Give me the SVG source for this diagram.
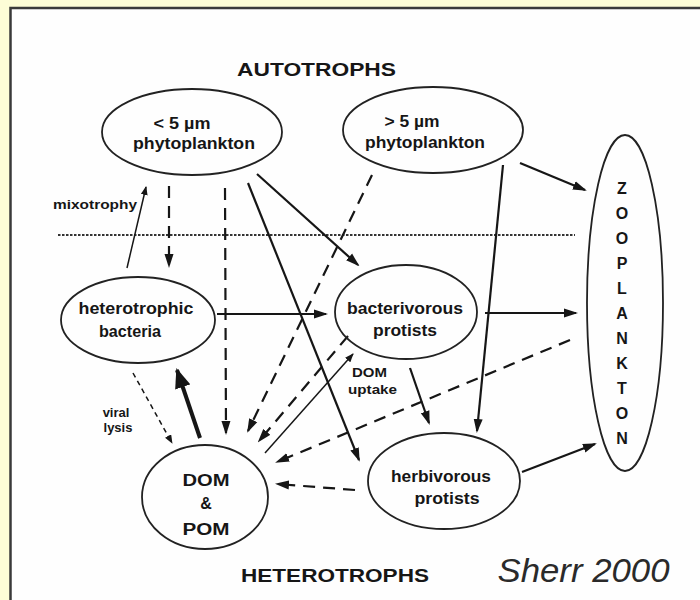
<svg xmlns="http://www.w3.org/2000/svg" width="700" height="600" viewBox="0 0 700 600">
<defs>
<style>
.t{font-family:"Liberation Sans",Arial,Helvetica,sans-serif;font-weight:bold;fill:#161616;text-anchor:middle;font-size:16px}
.sm{font-size:13px}
.big{font-size:19px}
.nd{fill:none;stroke:#222;stroke-width:1.8}
.c{fill:none;stroke:#161616;stroke-width:2.2}
.d{stroke-dasharray:12 8}
.thin{stroke-width:1.5}
.td{stroke-dasharray:5 4}
.thick{stroke-width:4}
</style>
<marker id="a" markerWidth="14" markerHeight="10" refX="12" refY="5" orient="auto" markerUnits="userSpaceOnUse"><path d="M0,0.5 L14,5 L0,9.5z" fill="#161616"/></marker>
<marker id="s" markerWidth="9" markerHeight="7" refX="8" refY="3.5" orient="auto" markerUnits="userSpaceOnUse"><path d="M0,0 L9,3.5 L0,7z" fill="#161616"/></marker>
<marker id="b" markerWidth="20" markerHeight="16" refX="18" refY="8" orient="auto" markerUnits="userSpaceOnUse"><path d="M0,0 L20,8 L0,16z" fill="#161616"/></marker>
</defs>
<rect x="0" y="0" width="700" height="600" fill="#fdfdd6"/>
<rect x="10.5" y="8" width="700" height="600" fill="#fefefe" stroke="#3a3a3a" stroke-width="2.5"/>

<text class="t big" x="316.5" y="76" textLength="159" lengthAdjust="spacingAndGlyphs">AUTOTROPHS</text>
<text class="t big" x="335" y="582" textLength="188" lengthAdjust="spacingAndGlyphs">HETEROTROPHS</text>
<text x="583.5" y="582" font-family="'Liberation Sans',Arial,sans-serif" font-style="italic" font-size="34" fill="#2a2a2a" text-anchor="middle" textLength="172" lengthAdjust="spacingAndGlyphs">Sherr 2000</text>

<path d="M58,235 H575" fill="none" stroke="#333" stroke-width="2" stroke-dasharray="2.5 1.5"/>

<g id="connectors">
<path class="c thin" d="M127,268 L146,187" marker-end="url(#s)"/>
<path class="c d" d="M169,186 L169,266" marker-end="url(#a)"/>
<path class="c d" d="M225,188 L226,433" marker-end="url(#a)"/>
<path class="c" d="M248,183 L359,460" marker-end="url(#a)"/>
<path class="c" d="M257,174 L358,265" marker-end="url(#a)"/>
<path class="c d" d="M372,175 L248,431" marker-end="url(#a)"/>
<path class="c" d="M520,163 L585,190" marker-end="url(#a)"/>
<path class="c" d="M503,165 L477,431" marker-end="url(#a)"/>
<path class="c" d="M217,314 L326,314" marker-end="url(#a)"/>
<path class="c" d="M485,313 L576,313" marker-end="url(#a)"/>
<path class="c d" d="M570,340 L277,462" marker-end="url(#a)"/>
<path class="c d" d="M348,336 L259,441" marker-end="url(#a)"/>
<path class="c thin" d="M265,453 L353,354" marker-end="url(#s)"/>
<path class="c" d="M410,368 L429,423" marker-end="url(#a)"/>
<path class="c d" d="M355,490 L277,484" marker-end="url(#a)"/>
<path class="c" d="M522,472 L595,444" marker-end="url(#a)"/>
<path class="c thin td" d="M133,373 L172,443" marker-end="url(#s)"/>
<path class="c thick" d="M200,438 L177,370" marker-end="url(#b)"/>
</g>

<g id="phyto-small">
<ellipse class="nd" cx="192" cy="132" rx="90" ry="43"/>
<text class="t" x="182" y="129" textLength="57" lengthAdjust="spacingAndGlyphs">&lt; 5 µm</text>
<text class="t" x="194" y="149" textLength="122" lengthAdjust="spacingAndGlyphs">phytoplankton</text>
</g>
<g id="phyto-large">
<ellipse class="nd" cx="433" cy="130" rx="90" ry="43"/>
<text class="t" x="412" y="127" textLength="55" lengthAdjust="spacingAndGlyphs">&gt; 5 µm</text>
<text class="t" x="425" y="148" textLength="120" lengthAdjust="spacingAndGlyphs">phytoplankton</text>
</g>
<g id="zooplankton">
<ellipse class="nd" cx="625" cy="303" rx="38" ry="168"/>
<g class="t" font-size="16">
<text x="622" y="194">Z</text>
<text x="622" y="219">O</text>
<text x="622" y="244">O</text>
<text x="622" y="269">P</text>
<text x="622" y="294">L</text>
<text x="622" y="319">A</text>
<text x="622" y="344">N</text>
<text x="622" y="369">K</text>
<text x="622" y="394">T</text>
<text x="622" y="419">O</text>
<text x="622" y="444">N</text>
</g>
</g>
<g id="het-bacteria">
<ellipse class="nd" cx="138" cy="320" rx="77" ry="43"/>
<text class="t" x="136" y="314" textLength="115" lengthAdjust="spacingAndGlyphs">heterotrophic</text>
<text class="t" x="130" y="337" textLength="62" lengthAdjust="spacingAndGlyphs">bacteria</text>
</g>
<g id="bact-protists">
<ellipse class="nd" cx="406" cy="312" rx="71" ry="47"/>
<text class="t" x="405" y="314" textLength="116" lengthAdjust="spacingAndGlyphs">bacterivorous</text>
<text class="t" x="405" y="336" textLength="64" lengthAdjust="spacingAndGlyphs">protists</text>
</g>
<g id="herb-protists">
<ellipse class="nd" cx="444" cy="481" rx="76" ry="48"/>
<text class="t" x="441" y="482" textLength="100" lengthAdjust="spacingAndGlyphs">herbivorous</text>
<text class="t" x="447" y="504" textLength="65" lengthAdjust="spacingAndGlyphs">protists</text>
</g>
<g id="dom-pom">
<ellipse class="nd" cx="205" cy="497" rx="63" ry="52"/>
<text class="t" font-size="18" x="206" y="486" textLength="47" lengthAdjust="spacingAndGlyphs">DOM</text>
<text class="t" font-size="18" x="206" y="509">&amp;</text>
<text class="t" font-size="18" x="206" y="535" textLength="47" lengthAdjust="spacingAndGlyphs">POM</text>
</g>

<g id="labels">
<text class="t sm" x="95" y="209" textLength="84" lengthAdjust="spacingAndGlyphs">mixotrophy</text>
<text class="t sm" x="116" y="417">viral</text>
<text class="t sm" x="118" y="432">lysis</text>
<text class="t sm" x="369.5" y="377" textLength="35" lengthAdjust="spacingAndGlyphs">DOM</text>
<text class="t sm" x="372.5" y="394" textLength="49" lengthAdjust="spacingAndGlyphs">uptake</text>
</g>
</svg>
